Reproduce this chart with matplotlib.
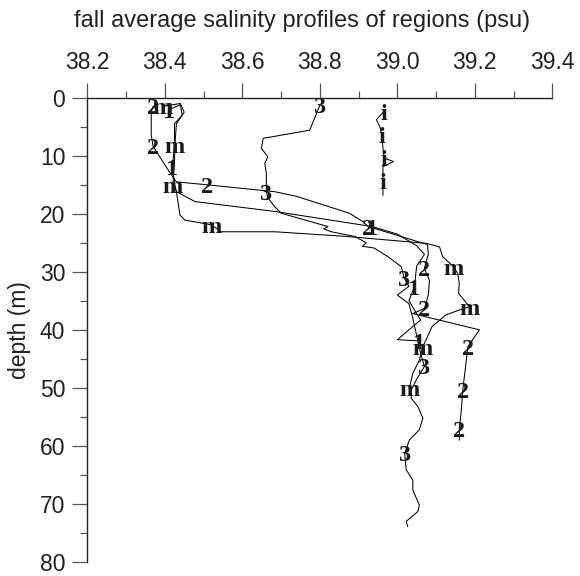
import matplotlib
matplotlib.use("Agg")
import matplotlib.pyplot as plt
from matplotlib.ticker import MultipleLocator, FormatStrFormatter

# ---- data (salinity psu, depth m) ----
sal_1 = [38.41, 38.44, 38.445, 38.425, 38.425, 38.42, 38.425, 38.43, 38.478, 38.684,
         38.935, 39.0, 39.05, 39.07, 39.05, 39.044, 39.03, 39.06, 39.0, 39.055]
dep_1 = [2.1, 1.2, 3.0, 4.5, 8.0, 11.9, 14.7, 16.2, 17.9, 19.6,
         22.2, 23.5, 25.5, 27.0, 29.0, 32.6, 35.0, 38.3, 41.7, 41.9]
lab_1 = [0, 5, 10, 15, 19]

sal_2 = [38.37, 38.365, 38.365, 38.37, 38.39, 38.417, 38.43, 38.508, 38.684, 38.74,
         38.876, 38.91, 38.925, 39.078, 39.08, 39.07, 39.083, 39.08, 39.07, 39.04,
         39.212, 39.182, 39.175, 39.169, 39.165, 39.16, 39.16]
dep_2 = [1.5, 2.4, 6.4, 8.4, 10.5, 13.3, 14.5, 15.0, 16.2, 17.0,
         19.9, 21.3, 22.2, 25.3, 27.0, 29.4, 31.5, 34.0, 36.3, 37.2,
         40.0, 42.9, 47.0, 50.3, 54.0, 57.1, 59.0]
lab_2 = [0, 3, 7, 12, 15, 18, 21, 23, 25]

sal_3 = [38.80, 38.79, 38.783, 38.774, 38.654, 38.649, 38.666, 38.658, 38.662, 38.662,
         38.666, 38.684, 38.70, 38.821, 38.81, 38.83, 38.89, 38.92, 38.91, 38.94,
         38.976, 39.01, 39.018, 39.03, 39.0, 39.03, 39.04, 39.05, 39.06, 39.07,
         39.05, 39.035, 39.036, 39.053, 39.066, 39.057, 39.031, 39.019, 39.023, 39.04,
         39.04, 39.057, 39.053, 39.023, 39.027]
dep_3 = [1.3, 3.0, 4.1, 5.6, 7.0, 8.7, 10.2, 11.3, 13.0, 16.2,
         17.3, 18.8, 19.9, 22.2, 22.6, 23.1, 23.9, 25.0, 25.6, 25.9,
         27.4, 29.1, 31.1, 32.5, 34.0, 35.5, 38.0, 41.0, 44.0, 46.3,
         48.5, 50.5, 51.8, 53.2, 55.2, 57.2, 59.0, 61.3, 64.1, 65.9,
         67.6, 70.2, 71.3, 73.0, 73.9]
lab_3 = [0, 9, 22, 29, 37]

sal_m = [38.395, 38.44, 38.45, 38.43, 38.426, 38.425, 38.421, 38.43, 38.439, 38.452,
         38.52, 38.546, 38.684, 38.868, 39.075, 39.109, 39.117, 39.145, 39.156, 39.16,
         39.158, 39.186, 39.147, 39.126, 39.09, 39.066, 39.057, 39.04, 39.031]
dep_m = [1.5, 1.0, 2.5, 4.5, 8.1, 11.0, 15.0, 16.2, 20.2, 21.1,
         21.9, 23.1, 23.1, 23.9, 25.1, 25.7, 27.4, 29.1, 30.3, 32.0,
         33.7, 36.0, 36.9, 37.4, 39.4, 42.9, 45.2, 47.5, 50.1]
lab_m = [0, 4, 6, 10, 17, 21, 25, 28]

sal_i = [38.965, 38.946, 38.955, 38.96, 38.963, 38.966, 38.99, 38.963, 38.963, 38.963]
dep_i = [2.4, 3.8, 5.0, 6.4, 8.7, 10.4, 11.0, 11.9, 14.4, 16.8]
lab_i = [0, 3, 5, 8]

series = [("1", sal_1, dep_1, lab_1), ("2", sal_2, dep_2, lab_2),
          ("3", sal_3, dep_3, lab_3), ("m", sal_m, dep_m, lab_m),
          ("i", sal_i, dep_i, lab_i)]

title = "fall average salinity profiles of regions (psu)"
ylabel = "depth (m)"

fig = plt.figure(figsize=(5.8, 5.76), dpi=100)
ax = fig.add_axes([87.3 / 580, 1 - 562 / 576, (552.3 - 87.3) / 580, (562 - 97.7) / 576])

for name, s, d, lab in series:
    ax.plot(s, d, color="black", lw=0.75)
    for k in lab:
        ax.text(s[k], d[k], name, ha="center", va="center_baseline",
                fontsize=17.5, family="Liberation Serif", fontweight="bold",
                color="#1a1a1a")

ax.set_xlim(38.2, 39.4)
ax.set_ylim(80, 0)
ax.xaxis.tick_top()
ax.xaxis.set_major_locator(MultipleLocator(0.2))
ax.xaxis.set_minor_locator(MultipleLocator(0.1))
ax.xaxis.set_major_formatter(FormatStrFormatter("%.1f"))
ax.yaxis.set_major_locator(MultipleLocator(10))
ax.yaxis.set_minor_locator(MultipleLocator(5))

for sp in ["right", "bottom"]:
    ax.spines[sp].set_visible(False)
for sp in ["top", "left"]:
    ax.spines[sp].set_linewidth(1.0)
    ax.spines[sp].set_color("#222222")

ax.tick_params(axis="both", which="major", length=10.8, width=0.9, color="#555555",
               labelsize=16.5, labelcolor="#222222")
ax.tick_params(axis="both", which="minor", length=5.4, width=0.9, color="#555555")
ax.tick_params(axis="x", which="major", pad=6.0)
ax.tick_params(axis="y", which="major", pad=5.0)
for lbl in ax.get_xticklabels() + ax.get_yticklabels():
    lbl.set_family("Liberation Sans")

fig.text(20 / 580, 1 - 330 / 576, ylabel, rotation=90, ha="center", va="center",
         fontsize=16.5, family="Liberation Sans", color="#222222")

fig.text(302 / 580, 1 - 27 / 576, title, ha="center", va="baseline",
         fontsize=17, family="Liberation Sans", color="#222222")

fig.savefig("out.png", dpi=100)
